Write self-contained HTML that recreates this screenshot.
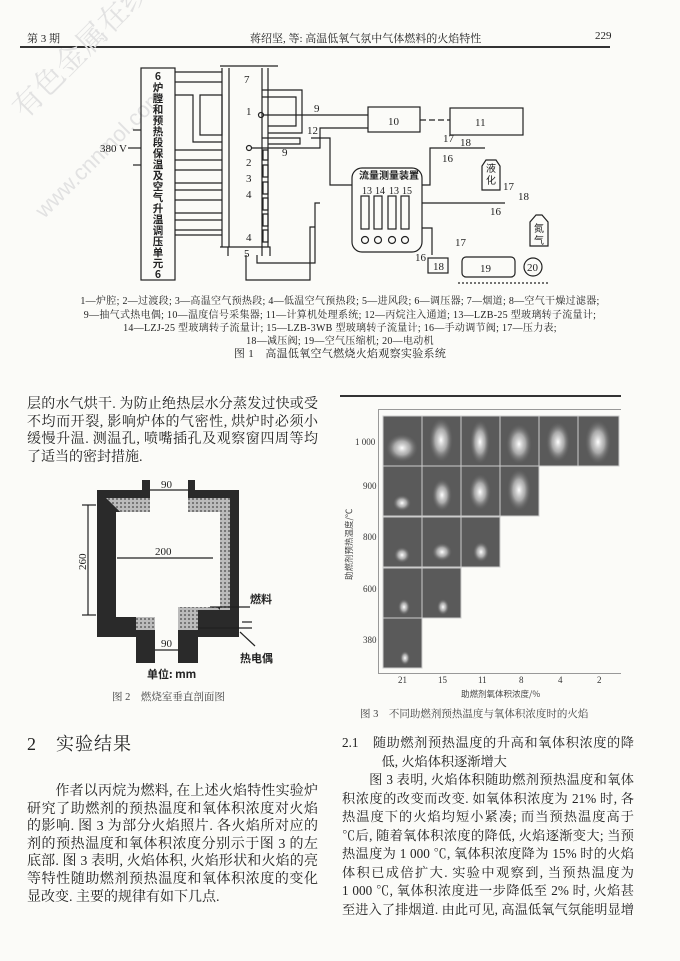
<!DOCTYPE html>
<html><head><meta charset="utf-8"><style>
body{margin:0;width:680px;height:961px;background:#fbfbf8;position:relative;overflow:hidden;font-family:"Liberation Serif","Noto Serif CJK SC","Noto Sans CJK SC",serif;color:#222}
.a{position:absolute;white-space:nowrap}
.p div{height:17.6px;line-height:17.6px;font-size:14px;text-align:justify;text-align-last:justify;white-space:normal;overflow:hidden}
.p div.l{text-align-last:left}
.r div{font-size:13.2px;height:18.5px;line-height:18.5px}
.c{font-size:10px;text-align:center;width:680px;left:0;letter-spacing:0.3px}
</style></head><body>
<div class="a" style="left:27px;top:30px;font-size:11px">第 3 期</div>
<div class="a" style="left:250px;top:30px;font-size:11px">蒋绍坚, 等: 高温低氧气氛中气体燃料的火焰特性</div>
<div class="a" style="left:595px;top:30px;font-size:11px">229</div>
<div class="a" style="left:20px;top:46px;width:590px;height:1.5px;background:#333"></div>
<div class="a" style="left:0px;top:95px;font-size:30px;color:#e2e2e2;transform:rotate(-45deg);transform-origin:0 0;">有色金属在线</div>
<div class="a" style="left:30px;top:205px;font-size:22px;color:#e2e2e2;transform:rotate(-45deg);transform-origin:0 0;font-family:'Liberation Sans',sans-serif">www.cnnmol.com</div>

<svg class="a" style="left:0;top:0" width="680" height="300" stroke="#222" fill="none" stroke-width="1.2">
<rect x="141" y="68" width="34" height="212"/>
<line x1="133" y1="130" x2="141" y2="130"/><line x1="128" y1="148" x2="141" y2="148"/><line x1="133" y1="165" x2="141" y2="165"/>
<path d="M175 72H222 M175 82H222 M175 95H193V142H222 M200 95H222V135H200z"/>
<path d="M175 150H222 M175 160H222 M175 170H222 M175 183H222 M175 190H222 M175 200H222 M175 213H222 M175 220H222 M175 230H222 M175 235H222"/>
<line x1="220" y1="66" x2="278" y2="66"/>
<path d="M222 68V247 M229 68V247 M262 68V247 M268 68V247"/>
<path d="M262 90H302V133H268 M262 97H296V126H268" />
<path d="M262 138H300V144H268"/>
<path d="M268 150v10h-5v-10z M268 165v12h-5v-12z M268 182v12h-5v-12z M268 198v12h-5v-12z M268 214v12h-5v-12z M268 230v12h-5v-12z"/>
<path d="M220 247H270V256 M228 256V247 M262 256V247"/>
<circle cx="261" cy="115" r="2.5"/><circle cx="249" cy="148" r="2.5"/>
<path d="M263 115H368 M252 148H320V128H368 M311 138H330V185H352 M320 203H315V263H257V255 M315 227H310V280H246V255"/>
<rect x="368" y="107" width="52" height="25"/>
<path d="M420 120H450" stroke-dasharray="6 3"/>
<rect x="450" y="108" width="73" height="27"/>
<rect x="352" y="168" width="70" height="84" rx="10"/>
<rect x="361" y="196" width="8" height="33"/><rect x="374" y="196" width="8" height="33"/><rect x="388" y="196" width="8" height="33"/><rect x="401" y="196" width="8" height="33"/>
<circle cx="365" cy="240" r="3.5"/><circle cx="378" cy="240" r="3.5"/><circle cx="392" cy="240" r="3.5"/><circle cx="405" cy="240" r="3.5"/>
<path d="M422 185H430V148H485 M422 203H505 M422 228H432V255"/>
<path d="M486 160 L482 166 V190 H500 V166 L496 160z"/>
<path d="M536 215 L530 222 V246 H548 V222 L542 215z"/>
<rect x="428" y="258" width="20" height="15"/>
<rect x="462" y="257" width="53" height="20" rx="4"/>
<circle cx="533" cy="267" r="9"/>
<path d="M458 283H550" stroke-dasharray="2 2"/>
<g fill="#222" stroke="none" font-size="11" font-family="Liberation Serif,serif">
<text x="100" y="152">380 V</text>
<text x="244" y="83">7</text><text x="246" y="115">1</text><text x="246" y="166">2</text><text x="246" y="182">3</text><text x="246" y="198">4</text><text x="246" y="241">4</text><text x="244" y="257">5</text>
<text x="314" y="112">9</text><text x="282" y="156">9</text><text x="307" y="134">12</text>
<text x="388" y="125">10</text><text x="475" y="126">11</text>
<text x="362" y="194" font-size="10">13</text><text x="375" y="194" font-size="10">14</text><text x="389" y="194" font-size="10">13</text><text x="402" y="194" font-size="10">15</text>
<text x="442" y="162">16</text><text x="443" y="142">17</text><text x="460" y="146">18</text>
<text x="490" y="215">16</text><text x="503" y="190">17</text><text x="518" y="200">18</text>
<text x="415" y="261">16</text><text x="455" y="246">17</text><text x="433" y="270">18</text><text x="480" y="272">19</text><text x="527" y="271">20</text>
<text x="359" y="179" font-size="10" font-family="Noto Sans CJK SC,sans-serif" font-weight="bold">流量测量装置</text>
<text x="486" y="172" font-size="10" font-family="Noto Sans CJK SC,sans-serif">液</text><text x="486" y="184" font-size="10" font-family="Noto Sans CJK SC,sans-serif">化</text>
<text x="534" y="232" font-size="10" font-family="Noto Sans CJK SC,sans-serif">氮</text><text x="534" y="244" font-size="10" font-family="Noto Sans CJK SC,sans-serif">气</text>
</g>
<text x="158" y="80" fill="#222" stroke="none" font-size="10.5" font-weight="bold" text-anchor="middle" font-family="Noto Sans CJK SC,sans-serif">
<tspan x="158" dy="0">6</tspan><tspan x="158" dy="11">炉</tspan><tspan x="158" dy="11">膛</tspan><tspan x="158" dy="11">和</tspan><tspan x="158" dy="11">预</tspan><tspan x="158" dy="11">热</tspan><tspan x="158" dy="11">段</tspan><tspan x="158" dy="11">保</tspan><tspan x="158" dy="11">温</tspan><tspan x="158" dy="11">及</tspan><tspan x="158" dy="11">空</tspan><tspan x="158" dy="11">气</tspan><tspan x="158" dy="11">升</tspan><tspan x="158" dy="11">温</tspan><tspan x="158" dy="11">调</tspan><tspan x="158" dy="11">压</tspan><tspan x="158" dy="11">单</tspan><tspan x="158" dy="11">元</tspan><tspan x="158" dy="11">6</tspan></text>
</svg>

<div class="a c" style="top:292px">1—炉腔; 2—过渡段; 3—高温空气预热段; 4—低温空气预热段; 5—进风段; 6—调压器; 7—烟道; 8—空气干燥过滤器;</div>
<div class="a c" style="top:306px">9—抽气式热电偶; 10—温度信号采集器; 11—计算机处理系统; 12—丙烷注入通道; 13—LZB-25 型玻璃转子流量计;</div>
<div class="a c" style="top:319px">14—LZJ-25 型玻璃转子流量计; 15—LZB-3WB 型玻璃转子流量计; 16—手动调节阀; 17—压力表;</div>
<div class="a c" style="top:332px">18—减压阀; 19—空气压缩机; 20—电动机</div>
<div class="a c" style="top:345px;font-size:11px">图 1　高温低氧空气燃烧火焰观察实验系统</div>

<div class="a p" style="left:27px;top:396px;width:291px">
<div>层的水气烘干. 为防止绝热层水分蒸发过快或受热</div>
<div>不均而开裂, 影响炉体的气密性, 烘炉时必须小功率</div>
<div>缓慢升温. 测温孔, 喷嘴插孔及观察窗四周等均采用</div>
<div class="l">了适当的密封措施.</div></div>

<svg class="a" style="left:0;top:470px" width="340" height="240">
<defs><pattern id="h" width="4" height="4" patternUnits="userSpaceOnUse"><rect width="4" height="4" fill="#bbb"/><rect width="2" height="2" fill="#777"/></pattern></defs>
<path d="M97 20H142V10H195V20H239V167H198V193H136V167H97z" fill="#2a2a2a"/>
<path d="M106 28H150V42H116V140H136V160H155V147H178V160H198V140H230V28H188V42H220V140" fill="url(#h)" stroke="none"/>
<path d="M116 42H220V137H178V147H155V147H116z" fill="#fbfbf8"/>
<rect x="150" y="10" width="38" height="32" fill="#fbfbf8"/>
<rect x="155" y="147" width="23" height="46" fill="#fbfbf8"/>
<g stroke="#222" stroke-width="1.2">
<line x1="150" y1="20" x2="188" y2="20"/><line x1="117" y1="88" x2="213" y2="88"/><line x1="155" y1="180" x2="178" y2="180"/>
<line x1="88" y1="35" x2="88" y2="145"/><line x1="82" y1="35" x2="96" y2="35"/><line x1="82" y1="145" x2="96" y2="145"/>
<line x1="210" y1="137" x2="250" y2="137"/><line x1="198" y1="158" x2="252" y2="158"/><line x1="242" y1="152" x2="252" y2="152"/>
<line x1="240" y1="162" x2="255" y2="176"/></g>
<g font-family="Liberation Serif,serif" font-size="11" fill="#222"><text x="161" y="18">90</text><text x="155" y="85">200</text><text x="161" y="177">90</text>
<text x="86" y="100" transform="rotate(-90 86 100)">260</text></g>
<g font-family="Noto Sans CJK SC,sans-serif" font-size="11" fill="#222" font-weight="bold"><text x="250" y="133">燃料</text><text x="240" y="192">热电偶</text><text x="147" y="208">单位: mm</text></g>
</svg>
<div class="a" style="left:112px;top:689px;font-size:10.5px;color:#444">图 2　燃烧室垂直剖面图</div>

<div class="a" style="left:340px;top:395px;width:281px;height:1.5px;background:#333"></div>
<div class="a" style="left:378px;top:409px;width:242px;height:263px;border:1px solid #999;border-right:none"></div>
<svg class="a" style="left:0;top:0" width="680" height="961">
<defs><radialGradient id="f" cx="50%" cy="50%" r="50%"><stop offset="0" stop-color="#fff"/><stop offset="0.5" stop-color="#ccc" stop-opacity="0.7"/><stop offset="1" stop-color="#666" stop-opacity="0"/></radialGradient></defs>
<g fill="#5a5a5a" stroke="#ccc" stroke-width="1">
<rect x="383" y="416" width="39" height="50"/><rect x="422" y="416" width="39" height="50"/><rect x="461" y="416" width="39" height="50"/><rect x="500" y="416" width="39" height="50"/><rect x="539" y="416" width="39" height="50"/><rect x="578" y="416" width="41" height="50"/>
<rect x="383" y="466" width="39" height="50"/><rect x="422" y="466" width="39" height="50"/><rect x="461" y="466" width="39" height="50"/><rect x="500" y="466" width="39" height="50"/>
<rect x="383" y="517" width="39" height="50"/><rect x="422" y="517" width="39" height="50"/><rect x="461" y="517" width="39" height="50"/>
<rect x="383" y="568" width="39" height="50"/><rect x="422" y="568" width="39" height="50"/>
<rect x="383" y="618" width="39" height="50"/></g>
<g fill="url(#f)">
<ellipse cx="402" cy="448" rx="16" ry="14"/><ellipse cx="441" cy="440" rx="12" ry="22"/><ellipse cx="480" cy="442" rx="10" ry="22"/><ellipse cx="519" cy="444" rx="13" ry="20"/><ellipse cx="558" cy="442" rx="12" ry="20"/><ellipse cx="598" cy="442" rx="13" ry="22"/>
<ellipse cx="402" cy="503" rx="9" ry="8"/><ellipse cx="442" cy="495" rx="10" ry="16"/><ellipse cx="480" cy="492" rx="11" ry="18"/><ellipse cx="519" cy="490" rx="12" ry="21"/>
<ellipse cx="402" cy="555" rx="8" ry="8"/><ellipse cx="442" cy="552" rx="10" ry="9"/><ellipse cx="481" cy="552" rx="8" ry="10"/>
<ellipse cx="404" cy="607" rx="6" ry="8"/><ellipse cx="443" cy="607" rx="6" ry="8"/><ellipse cx="405" cy="658" rx="5" ry="7"/></g>
<g font-family="Liberation Serif,serif" font-size="9" fill="#333">
<text x="355" y="445">1 000</text><text x="363" y="489">900</text><text x="363" y="540">800</text><text x="363" y="592">600</text><text x="363" y="643">380</text>
<text x="398" y="683">21</text><text x="438" y="683">15</text><text x="478" y="683">11</text><text x="519" y="683">8</text><text x="558" y="683">4</text><text x="597" y="683">2</text></g>
<text x="352" y="580" transform="rotate(-90 352 580)" font-size="8.5" fill="#444" font-family="Noto Sans CJK SC,sans-serif">助燃剂预热温度/℃</text>
<text x="461" y="697" font-size="8.5" fill="#444" font-family="Noto Sans CJK SC,sans-serif">助燃剂氧体积浓度/%</text>
</svg>
<div class="a" style="left:360px;top:706px;font-size:10.5px;color:#444">图 3　不同助燃剂预热温度与氧体积浓度时的火焰</div>

<div class="a" style="left:27px;top:730px;font-size:18px;letter-spacing:1px">2　实验结果</div>
<div class="a p" style="left:27px;top:783px;width:291px">
<div>　　作者以丙烷为燃料, 在上述火焰特性实验炉上,</div>
<div>研究了助燃剂的预热温度和氧体积浓度对火焰特性</div>
<div>的影响. 图 3 为部分火焰照片. 各火焰所对应的助燃</div>
<div>剂的预热温度和氧体积浓度分别示于图 3 的左侧和</div>
<div>底部. 图 3 表明, 火焰体积, 火焰形状和火焰的亮度</div>
<div>等特性随助燃剂预热温度和氧体积浓度的变化而明</div>
<div class="l">显改变. 主要的规律有如下几点.</div></div>

<div class="a p r" style="left:342px;top:734px;width:292px">
<div>2.1　随助燃剂预热温度的升高和氧体积浓度的降</div>
<div class="l">　　　低, 火焰体积逐渐增大</div>
<div>　　图 3 表明, 火焰体积随助燃剂预热温度和氧体</div>
<div>积浓度的改变而改变. 如氧体积浓度为 21% 时, 各预</div>
<div>热温度下的火焰均短小紧凑; 而当预热温度高于 800</div>
<div>℃后, 随着氧体积浓度的降低, 火焰逐渐变大; 当预</div>
<div>热温度为 1 000 ℃, 氧体积浓度降为 15% 时的火焰</div>
<div>体积已成倍扩大. 实验中观察到, 当预热温度为</div>
<div>1 000 ℃, 氧体积浓度进一步降低至 2% 时, 火焰甚</div>
<div>至进入了排烟道. 由此可见, 高温低氧气氛能明显增</div></div>
</body></html>
